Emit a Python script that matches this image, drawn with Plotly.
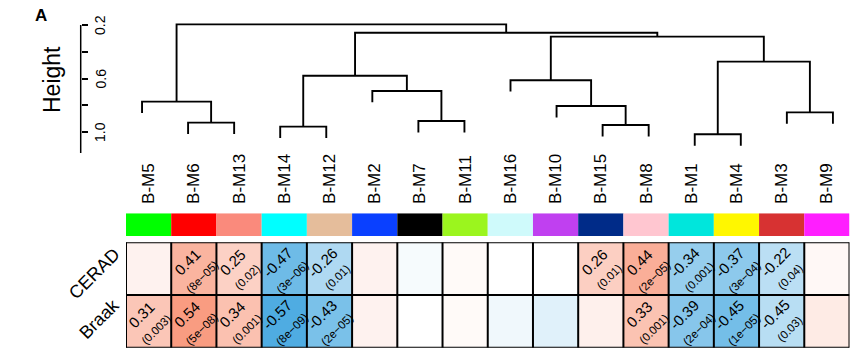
import plotly.graph_objects as go

# ---------------- data ----------------
modules = ["B-M5", "B-M6", "B-M13", "B-M14", "B-M12", "B-M2", "B-M7", "B-M11",
           "B-M16", "B-M10", "B-M15", "B-M8", "B-M1", "B-M4", "B-M3", "B-M9"]
module_colors = ["#00FF00", "#FF0000", "#FA8A7C", "#00FFFF", "#E5BD9B", "#0A40FF",
                 "#000000", "#9BF51E", "#CFFAFB", "#C040F0", "#002B88", "#FFC6D0",
                 "#00E6DC", "#FFF700", "#D73232", "#FF1EFF"]
rows = ["CERAD", "Braak"]
cerad_r = [0.07, 0.41, 0.25, -0.47, -0.26, 0.07, -0.03, 0.03,
           0.0, 0.0, 0.26, 0.44, -0.34, -0.37, -0.22, 0.04]
braak_r = [0.31, 0.54, 0.34, -0.57, -0.43, 0.07, 0.0, 0.03,
           -0.05, -0.10, 0.08, 0.33, -0.39, -0.45, -0.23, 0.11]
cerad_label = ["", "0.41", "0.25", "-0.47", "-0.26", "", "", "",
               "", "", "0.26", "0.44", "-0.34", "-0.37", "-0.22", ""]
cerad_p = ["", "8e\u221205", "0.02", "3e\u221206", "0.01", "", "", "",
           "", "", "0.01", "2e\u221205", "0.001", "3e\u221204", "0.04", ""]
braak_label = ["0.31", "0.54", "0.34", "-0.57", "-0.43", "", "", "",
               "", "", "", "0.33", "-0.39", "-0.45", "-0.45", ""]
braak_p = ["0.003", "5e\u221208", "0.001", "8e\u221209", "2e\u221205", "", "", "",
           "", "", "", "0.001", "2e\u221204", "1e\u221205", "0.03", ""]

# dendrogram (hclust-style merge list: negative = leaf position (1-based), positive = earlier merge)
merge = [(-2, -3), (-1, 1), (-4, -5), (-7, -8), (-6, 4), (3, 5), (-11, -12), (-10, 7),
         (-9, 8), (-13, -14), (-15, -16), (10, 11), (9, 12), (6, 13), (2, 14)]
merge_height = [0.930, 0.773, 0.960, 0.918, 0.693, 0.579, 0.948, 0.806,
                0.613, 1.017, 0.853, 0.474, 0.287, 0.258, 0.195]
hang = 0.085
height_ticks = [0.2, 0.4, 0.6, 0.8, 1.0]
height_labels = ["0.2", "", "0.6", "", "1.0"]

FONT = "Liberation Sans, Arial, sans-serif"
W, H = 854, 354


def px(x):
    return x / W


def py(y):
    return 1 - y / H


# ---- dendrogram segments ----
node_x = {}
dx, dy = [], []
for k, (a, b) in enumerate(merge, start=1):
    h = merge_height[k - 1]
    pts = []
    for c in (a, b):
        if c < 0:
            cx, ch = -c - 1, h + hang
        else:
            cx, ch = node_x[c], merge_height[c - 1]
        pts.append((cx, ch))
    (xa, ha), (xb, hb) = pts
    dx += [xa, xa, xb, xb, None]
    dy += [ha, h, h, hb, None]
    node_x[k] = (xa + xb) / 2

fig = go.Figure()

fig.add_trace(go.Scatter(x=dx, y=dy, mode="lines", line=dict(color="black", width=1.9),
                         xaxis="x2", yaxis="y2", hoverinfo="skip"))

fig.add_trace(go.Bar(x=list(range(len(modules))), y=[1] * len(modules), width=1,
                     marker=dict(color=module_colors, line=dict(width=0)),
                     xaxis="x3", yaxis="y3", hoverinfo="skip"))

cscale = [[0.0, "rgb(70,168,224)"], [0.5, "rgb(255,255,255)"], [1.0, "rgb(248,145,115)"]]
fig.add_trace(go.Heatmap(z=[cerad_r, braak_r], x=list(range(len(modules))), y=[0, 1],
                         colorscale=cscale, zmin=-0.6, zmax=0.6, showscale=False,
                         xaxis="x", yaxis="y", hoverinfo="skip"))

shapes = []
for i in range(len(modules) + 1):
    shapes.append(dict(type="line", xref="x", yref="y", x0=i - 0.5, x1=i - 0.5, y0=-0.5, y1=1.5,
                       line=dict(color="black", width=2)))
for j in range(len(rows) + 1):
    shapes.append(dict(type="line", xref="x", yref="y", x0=-0.5, x1=len(modules) - 0.5,
                       y0=j - 0.5, y1=j - 0.5, line=dict(color="black", width=2)))
# height axis line
shapes.append(dict(type="line", xref="paper", yref="y2", x0=px(80.7), x1=px(80.7),
                   y0=0.2, y1=1.157, line=dict(color="black", width=1.5)))

C = dict(xanchor="center", yanchor="middle", showarrow=False)
ann = []
ann.append(dict(text="<b>A</b>", x=px(41), y=py(15.5), xref="paper", yref="paper",
                font=dict(size=17, family=FONT, color="black"), **C))
ann.append(dict(text="Height", x=px(52), y=py(80), xref="paper", yref="paper", textangle=-90,
                font=dict(size=23, family=FONT, color="black"), **C))
for v, t in zip(height_ticks, height_labels):
    if t:
        ann.append(dict(text=t, x=px(100), y=v, xref="paper", yref="y2", textangle=-90,
                        font=dict(size=14, family=FONT, color="black"), **C))
ann.append(dict(text=rows[0], x=px(94), y=py(274), xref="paper", yref="paper", textangle=-45,
                font=dict(size=18, family=FONT, color="black"), **C))
ann.append(dict(text=rows[1], x=px(99), y=py(318.5), xref="paper", yref="paper", textangle=-45,
                font=dict(size=18, family=FONT, color="black"), **C))

for r, (labs, ps) in enumerate([(cerad_label, cerad_p), (braak_label, braak_p)]):
    for i, (l, p) in enumerate(zip(labs, ps)):
        if l:
            ann.append(dict(text=f"{l}<br><span style='font-size:11.5px'>({p})</span>",
                            x=i, y=r, xref="x", yref="y", textangle=-45,
                            font=dict(size=15, family=FONT, color="black"), **C))

dom_x = [px(126), px(849.5)]
fig.update_layout(
    width=W, height=H, margin=dict(l=0, r=0, t=0, b=0),
    paper_bgcolor="white", plot_bgcolor="white", showlegend=False,
    shapes=shapes, annotations=ann,
    xaxis=dict(domain=dom_x, range=[-0.5, 15.5], visible=False, anchor="y"),
    yaxis=dict(domain=[py(347.7), py(242.3)], range=[1.5, -0.5], visible=False, anchor="x"),
    xaxis2=dict(domain=dom_x, range=[-0.348, 15.36], visible=False, anchor="y2"),
    yaxis2=dict(domain=[py(158), py(5)], range=[1.1944, 0.0505], anchor="free", position=px(80.7),
                showgrid=False, zeroline=False, showline=False, showticklabels=False,
                ticks="inside", ticklen=6, tickwidth=1.5, tickcolor="black",
                tickvals=height_ticks),
    xaxis3=dict(domain=dom_x, range=[-0.5, 15.5], anchor="y3", side="top",
                tickvals=list(range(len(modules))), ticktext=modules, tickangle=-90,
                ticks="outside", ticklen=5, tickcolor="rgba(0,0,0,0)",
                tickfont=dict(size=17, family=FONT, color="black"),
                showgrid=False, zeroline=False, showline=False),
    yaxis3=dict(domain=[py(236), py(213.3)], range=[0, 1], visible=False, anchor="x3"),
)

fig.write_html("out.html")
